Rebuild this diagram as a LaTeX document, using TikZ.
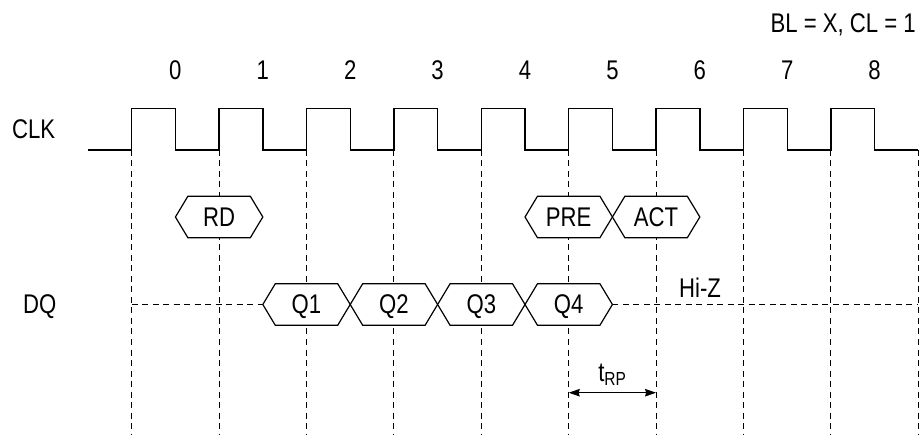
\documentclass[tikz,border=0pt]{standalone}
\usepackage{fontspec}
\setmainfont{Liberation Sans}[FakeStretch=0.82]
\usetikzlibrary{arrows.meta}
\newcommand\hexbox[4]{% name, cx, cy, text
  \draw[bus] (#2-43.7,#3) -- (#2-31.2,#3-20.8) -- (#2+31.2,#3-20.8) -- (#2+43.7,#3)
     -- (#2+31.2,#3+20.8) -- (#2-31.2,#3+20.8) -- cycle;
  \node[lbl, anchor=base] (#1) at (#2,#3+9.5) {#4};}
\begin{document}
\begin{tikzpicture}[x=1pt,y=-1pt,
  lbl/.style={font=\fontsize{27}{30}\selectfont, inner sep=0pt},
  clkline/.style={line width=1.4pt, line join=miter},
  gridline/.style={line width=1pt, dash pattern=on 6pt off 4.5pt},
  bus/.style={line width=1.2pt, fill=white, line join=miter},
  dim/.style={line width=1.2pt, {Stealth[length=11pt,width=7.5pt,inset=1pt]}-{Stealth[length=11pt,width=7.5pt,inset=1pt]}},
]
\useasboundingbox (0,0) rectangle (923,435);
\def\P{87.4}
\def\R{131.7}
% vertical dashed lines at rising edges
\foreach \k in {0,...,9}{
  \coordinate (t\k) at (\R+\k*\P,150);
  \coordinate (b\k) at (\R+\k*\P,435);
  \draw[gridline] (t\k) -- (b\k);
}
% clock
\draw[clkline] (88,150)
  \foreach \k in {0,...,8}{ -- (\R+\k*\P,150) -- (\R+\k*\P,108.3) -- (\R+\k*\P+\P/2,108.3) -- (\R+\k*\P+\P/2,150) }
  -- (\R+9*\P,150);
% cycle numbers
\node[lbl, anchor=base] (n0) at (175.4,80) {0};
\node[lbl, anchor=base] (n1) at (262.8,80) {1};
\node[lbl, anchor=base] (n2) at (350.2,80) {2};
\node[lbl, anchor=base] (n3) at (437.6,80) {3};
\node[lbl, anchor=base] (n4) at (525.0,80) {4};
\node[lbl, anchor=base] (n5) at (612.4,80) {5};
\node[lbl, anchor=base] (n6) at (699.8,80) {6};
\node[lbl, anchor=base] (n7) at (787.2,80) {7};
\node[lbl, anchor=base] (n8) at (874.6,80) {8};
\node[lbl, anchor=base east] (bl) at (916,33) {BL = X, CL = 1};
\node[lbl, anchor=base west] (clk) at (12,139) {CLK};
\node[lbl, anchor=base west] (dq) at (23,314) {DQ};
% DQ dashed (Hi-Z) lines
\coordinate (dqs) at (\R,304.5);
\coordinate (q1l) at (\R+2*\P-43.7,304.5);
\coordinate (q4r) at (\R+5*\P+43.7,304.5);
\coordinate (dqe) at (\R+9*\P,304.5);
\draw[gridline] (dqs) -- (q1l);
\draw[gridline] (q4r) -- (dqe);
\node[lbl, anchor=base] (hiz) at (700,298) {Hi-Z};
% command hexagons
\hexbox{rd}{\R+1*\P}{217}{RD}
\hexbox{pre}{\R+5*\P}{217}{PRE}
\hexbox{act}{\R+6*\P}{217}{ACT}
% data hexagons
\hexbox{q1}{\R+2*\P}{304.5}{Q1}
\hexbox{q2}{\R+3*\P}{304.5}{Q2}
\hexbox{q3}{\R+4*\P}{304.5}{Q3}
\hexbox{q4}{\R+5*\P}{304.5}{Q4}
% tRP
\coordinate (ra) at (\R+5*\P,392.7);
\coordinate (rb) at (\R+6*\P,392.7);
\draw[dim] (ra) -- (rb);
\node[lbl, anchor=base] (trp) at (\R+5.5*\P,381) {t\textsubscript{RP}};
\end{tikzpicture}
\end{document}
